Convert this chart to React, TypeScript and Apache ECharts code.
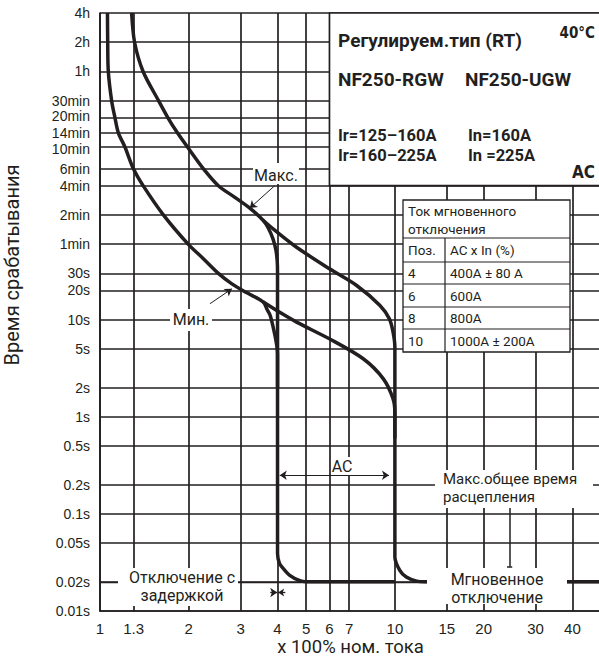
import React, { useEffect, useRef } from 'react';
import * as echarts from 'echarts';

const INK = '#231f20';
const ANNO_FONT = 'Roboto, "Noto Sans", sans-serif';
const TICK_FONT = '"Liberation Sans", Arial, sans-serif';
const COND_FONT = '"DejaVu Sans Condensed", "Liberation Sans Narrow", sans-serif';

// ---- axes ----
const xRange = [1, 50];
const yRange = [0.01, 14400];
const xTickValues = [1, 1.3, 2, 3, 4, 5, 6, 7, 10, 15, 20, 30, 40];
const xTickLabels = ['1', '1.3', '2', '3', '4', '5', '6', '7', '10', '15', '20', '30', '40'];
const yTickValues = [14400, 7200, 3600, 1800, 1200, 840, 600, 360, 240, 120, 60, 30, 20, 10, 5, 2, 1, 0.5, 0.2, 0.1, 0.05, 0.02, 0.01];
const yTickLabels = ['4h', '2h', '1h', '30min', '20min', '14min', '10min', '6min', '4min', '2min', '1min', '30s', '20s', '10s', '5s', '2s', '1s', '0.5s', '0.2s', '0.1s', '0.05s', '0.02s', '0.01s'];
const yLabelNudge: Record<string, number> = { '20min': -1.5, '10min': 2 };
const delayLineTime = 0.0155;
const xAxisTitle = 'x 100% ном. тока';
const yAxisTitle = 'Время срабатывания';

// ---- curves: [multiple of rated current, seconds] ----
const maxLongTime = [[1.28, 14400], [1.31, 7200], [1.40, 3600], [1.58, 1800], [1.70, 1200], [1.83, 840], [1.98, 600], [2.24, 360], [2.52, 240], [2.85, 184], [3.22, 141], [3.58, 105]];
const maxToPos4 = [[3.72, 88], [3.86, 68], [3.95, 52], [3.99, 40], [4, 30], [4, 0.039]];
const maxToPos10 = [[3.92, 83], [4.64, 55.7], [6.0, 33.4], [7.42, 22.5], [8.9, 14], [9.58, 10.2], [9.86, 7.45], [10, 5.2], [10, 0.036]];
const minLongTime = [[1.06, 14400], [1.062, 7200], [1.067, 3600], [1.095, 1800], [1.124, 1200], [1.154, 840], [1.215, 600], [1.297, 360], [1.40, 240], [1.64, 120], [1.99, 60], [2.25, 42], [2.52, 30], [2.80, 23.4], [3.15, 18.9], [3.58, 15.2]];
const minToPos4 = [[3.68, 12.9], [3.78, 11], [3.92, 6.9], [3.98, 5.3], [4, 4.4], [4, 2]];
const minToPos10 = [[4.07, 11.9], [4.64, 9.44], [6.0, 6.35], [7.81, 3.96], [9.14, 2.46], [9.86, 1.53], [10, 1.1], [10, 0.6]];
const instTail4 = [[4.06, 0.031], [4.18, 0.0275], [4.4, 0.0233], [4.76, 0.0205], [5.0, 0.02], [10, 0.02]];
const instTail10 = [[10.39, 0.0262], [10.93, 0.0224], [11.85, 0.0203], [12.6, 0.02], [50, 0.02]];

// ---- annotation pointers (data coords) ----
const maxPointer = [[3.92, 241], [3.22, 141]];
const minPointer = [[2.36, 14.6], [2.80, 20.8]];
const acSpan = [[4.07, 0.25], [9.55, 0.25]];
const clearingLeader = [[24.5, 0.118], [24.5, 0.0285]];

// ---- texts ----
const infoTitle = 'Регулируем.тип (RT)';
const infoTemp = '40°C';
const infoModels = ['NF250-RGW', 'NF250-UGW'];
const infoRatingsIr = ['Ir=125–160A', 'Ir=160–225A'];
const infoRatingsIn = ['In=160A', 'In =225A'];
const infoCurrent = 'AC';
const tableHeader = ['Ток мгновенного', 'отключения'];
const tableColumns = ['Поз.', 'AC x In (%)'];
const tablePositions = ['4', '6', '8', '10'];
const tableCurrents = ['400A ± 80 A', '600A', '800A', '1000A ± 200A'];

const curveBase = {
  type: 'line',
  showSymbol: false,
  symbol: 'none',
  smooth: 0.3,
  silent: true,
  z: 3,
  lineStyle: { color: INK, width: 3.5 },
};

function buildOption() {
  const tickLabel = { show: true, color: INK, fontFamily: TICK_FONT, fontSize: 14, lineHeight: 12 };
  const gridData: any[] = [];
  yTickValues.forEach((v, i) => {
    const lbl = yTickLabels[i];
    gridData.push({
      yAxis: v,
      label: { ...tickLabel, position: 'start', distance: 10, formatter: lbl, offset: [0, yLabelNudge[lbl] || 0] },
    });
  });
  xTickValues.forEach((v, i) => {
    gridData.push({ xAxis: v, label: { ...tickLabel, fontSize: 15, position: 'start', distance: 11, formatter: xTickLabels[i] } });
  });
  gridData.push({ yAxis: delayLineTime, label: { show: false }, lineStyle: { color: INK, width: 1.3, type: 'solid' } });

  const thin = { color: INK, width: 1, type: 'solid' };
  const annoData: any[] = [
    [{ coord: maxPointer[0], symbol: 'none' }, { coord: maxPointer[1], symbol: 'arrow', symbolSize: 7, lineStyle: thin }],
    [{ coord: minPointer[0], symbol: 'none' }, { coord: minPointer[1], symbol: 'arrow', symbolSize: 7, lineStyle: thin }],
    [{ coord: acSpan[0], symbol: 'arrow', symbolSize: 7 }, { coord: acSpan[1], symbol: 'arrow', symbolSize: 7, lineStyle: thin }],
    [{ coord: clearingLeader[0], symbol: 'none' }, { coord: clearingLeader[1], symbol: 'none', lineStyle: { color: INK, width: 1.5, type: 'solid' } }],
    [{ coord: [24.0, clearingLeader[1][1]], symbol: 'none' }, { coord: [25.0, clearingLeader[1][1]], symbol: 'none', lineStyle: { color: INK, width: 1.5, type: 'solid' } }],
    [{ coord: [3.78, delayLineTime], symbol: 'none' }, { coord: [3.99, delayLineTime], symbol: 'arrow', symbolSize: 7, lineStyle: { color: INK, width: 1.3, type: 'solid' } }],
    [{ coord: [4.25, delayLineTime], symbol: 'none' }, { coord: [4.02, delayLineTime], symbol: 'arrow', symbolSize: 6, lineStyle: { color: INK, width: 1.3, type: 'solid' } }],
  ];

  return {
    animation: false,
    backgroundColor: '#ffffff',
    grid: { left: 100, top: 13, width: 501, height: 598, containLabel: false, outerBoundsMode: 'none' },
    xAxis: {
      type: 'log', logBase: 10, min: xRange[0], max: xRange[1],
      axisLine: { show: true, onZero: false, lineStyle: { color: INK, width: 1.7 } },
      axisTick: { show: false }, axisLabel: { show: false }, splitLine: { show: false }, minorSplitLine: { show: false },
      name: xAxisTitle, nameLocation: 'middle', nameGap: 26,
      nameTextStyle: { color: INK, fontFamily: ANNO_FONT, fontSize: 18.5 },
    },
    yAxis: {
      type: 'log', logBase: 10, min: yRange[0], max: yRange[1],
      axisLine: { show: true, onZero: false, lineStyle: { color: INK, width: 1.7 } },
      axisTick: { show: false }, axisLabel: { show: false }, splitLine: { show: false }, minorSplitLine: { show: false },
    },
    series: [
      {
        ...curveBase, name: 'max-4', data: [...maxLongTime, ...maxToPos4, ...instTail4],
        markLine: {
          silent: true, animation: false, symbol: ['none', 'none'],
          lineStyle: { color: INK, width: 1.7, type: 'solid' },
          label: { show: false },
          emphasis: { disabled: true },
          data: gridData,
        },
      },
      { ...curveBase, name: 'max-10', data: [maxLongTime[maxLongTime.length - 1], ...maxToPos10, ...instTail10] },
      { ...curveBase, name: 'min-4', data: [...minLongTime, ...minToPos4] },
      {
        ...curveBase, name: 'min-10', data: [minLongTime[minLongTime.length - 1], ...minToPos10],
        markLine: {
          silent: true, animation: false, symbol: ['none', 'none'],
          lineStyle: thin,
          label: { show: false },
          emphasis: { disabled: true },
          data: annoData,
        },
      },
    ],
  };
}

function buildGraphics(x6: number, yTop: number, y4min: number) {
  const g: any[] = [];
  const rect = (x: number, y: number, w: number, h: number, stroke = false, lw = 1.7) => g.push({
    type: 'rect', z: 100, silent: true, shape: { x, y, width: w, height: h },
    style: { fill: '#ffffff', stroke: stroke ? INK : null, lineWidth: lw },
  });
  const text = (x: number, y: number, s: string, o: any = {}) => g.push({
    type: 'text', z: 102, silent: true, x, y,
    style: { text: s, fill: INK, fontFamily: ANNO_FONT, fontSize: 16, align: 'left', verticalAlign: 'middle', ...o },
  });
  const line = (x1: number, y1: number, x2: number, y2: number, lw = 1.2) => g.push({
    type: 'line', z: 101, silent: true, shape: { x1, y1, x2, y2 }, style: { stroke: INK, lineWidth: lw },
  });

  // y axis title
  g.push({
    type: 'text', z: 102, silent: true, x: 12, y: 265, rotation: Math.PI / 2,
    style: { text: yAxisTitle, fill: INK, fontFamily: ANNO_FONT, fontSize: 20, align: 'center', verticalAlign: 'middle' },
  });

  // info box
  rect(x6, yTop, 700, y4min - yTop, true, 1.7);
  text(338, 40, infoTitle, { fontSize: 19, fontWeight: 'bold' });
  text(595, 33, infoTemp, { align: 'right', fontFamily: COND_FONT, fontWeight: 'bold', fontSize: 15 });
  text(338, 79, infoModels[0], { fontSize: 19, fontWeight: 'bold' });
  text(465, 79, infoModels[1], { fontSize: 19, fontWeight: 'bold' });
  const ir = { fontSize: 16.5, fontWeight: 'bold', lineHeight: 19.4 };
  text(338, 145.5, infoRatingsIr.join('\n'), ir);
  text(468, 145.5, infoRatingsIn.join('\n'), ir);
  text(595, 172, infoCurrent, { align: 'right', fontFamily: COND_FONT, fontWeight: 'bold', fontSize: 17, lineHeight: 16 });

  // table
  const tl = 403, tr = 570, tt = 200, tb = 352, tc = 445;
  const rows = [238, 262, 284, 307, 329];
  rect(tl, tt, tr - tl, tb - tt, true, 1.3);
  rows.forEach((y) => line(tl, y, tr, y, 1.2));
  line(tc, rows[0], tc, tb, 1.2);
  const tf = { fontSize: 13.5, lineHeight: 15 };
  text(408, 219.75, tableHeader.join('\n'), { ...tf, lineHeight: 17.5 });
  text(408, 250, tableColumns[0], tf);
  text(450, 250, tableColumns[1], tf);
  const rowMid = [273, 295.5, 318, 340.5];
  tablePositions.forEach((p, i) => {
    text(408, rowMid[i], p, tf);
    text(450, rowMid[i], tableCurrents[i], tf);
  });

  // labels with white backgrounds
  const lf = { align: 'center', lineHeight: 16 };
  rect(253, 163, 46, 21);
  text(276, 175, 'Макс.', lf);
  rect(170, 309, 42, 22);
  text(191, 319.5, 'Мин.', lf);
  rect(331, 457, 23, 18);
  text(342, 466, 'AC', lf);
  rect(435, 470, 158, 38);
  text(443, 488, 'Макс.общее время\nрасцепления', { fontSize: 15, lineHeight: 17.8 });
  rect(118, 568, 120, 38);
  text(182, 586, 'Отключение с\nзадержкой', { align: 'center', lineHeight: 18 });
  rect(427, 568, 140, 36);
  text(497, 588, 'Мгновенное\nотключение', { align: 'center', lineHeight: 18 });
  return g;
}

export default function App() {
  const ref = useRef<HTMLDivElement>(null);
  useEffect(() => {
    document.body.style.margin = '0';
    const el = ref.current!;
    const chart = echarts.init(el, null, { renderer: 'svg' });
    chart.setOption(buildOption() as any);
    const [x6, yTop] = chart.convertToPixel({ gridIndex: 0 }, [6, yRange[1]]) as number[];
    const [, y4min] = chart.convertToPixel({ gridIndex: 0 }, [6, 240]) as number[];
    chart.setOption({ graphic: buildGraphics(x6, yTop, y4min) } as any);
    return () => chart.dispose();
  }, []);
  return <div ref={ref} style={{ width: 599, height: 658, background: '#fff' }} />;
}
